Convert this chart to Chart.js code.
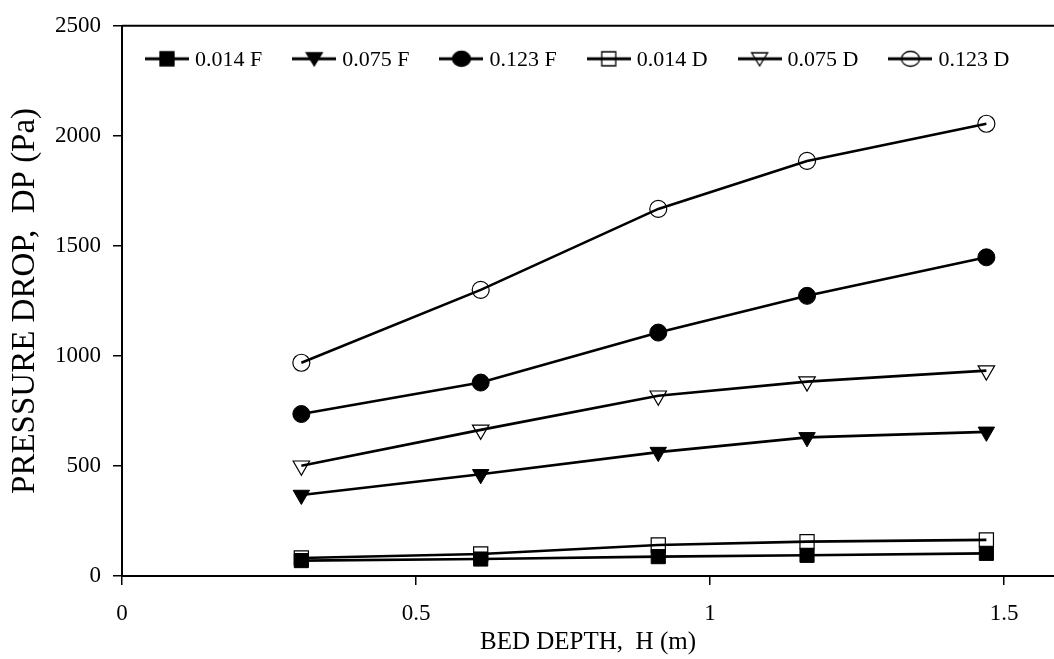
<!DOCTYPE html>
<html>
<head>
<meta charset="utf-8">
<script src="https://cdn.jsdelivr.net/npm/chart.js@4/dist/chart.umd.min.js"></script>
<style>
  html, body { margin: 0; background: #fff; }
  #wrap { width: 1054px; height: 659px; }
</style>
</head>
<body>
<div id="wrap"><canvas id="chart"></canvas></div>
<script>
// bed depth H (m) and pressure drop DP (Pa)
const bedDepth = [0.305, 0.61, 0.912, 1.165, 1.47]
const dp014F = [70, 77, 88, 94, 103]
const dp075F = [368, 462, 563, 630, 655]
const dp123F = [736, 879, 1106, 1273, 1448]
const dp014D = [82, 100, 141, 156, 164]
const dp075D = [501, 664, 819, 883, 933]
const dp123D = [969, 1300, 1668, 1886, 2055]

const seriesNames = ["0.014 F", "0.075 F", "0.123 F", "0.014 D", "0.075 D", "0.123 D"]
const xTicks = [0, 0.5, 1, 1.5]
const yTicks = [0, 500, 1000, 1500, 2000, 2500]

const FONT = "'Liberation Serif', 'Times New Roman', serif"

// legend glyph: a short line with the marker on it
function makeIcon(shape, filled) {
  const c = document.createElement("canvas")
  c.width = 44
  c.height = 22
  const g = c.getContext("2d")
  g.strokeStyle = "#000"
  g.fillStyle = "#000"
  g.lineWidth = 3
  g.beginPath()
  g.moveTo(0, 11)
  g.lineTo(44, 11)
  g.stroke()
  g.lineWidth = 1.3
  g.beginPath()
  if (shape === "rect") g.rect(15, 4, 14, 14)
  if (shape === "triangle") { g.moveTo(14, 5); g.lineTo(30, 5); g.lineTo(22, 18); g.closePath() }
  if (shape === "circle") g.ellipse(22, 11, 9, 7.5, 0, 0, Math.PI * 2)
  if (filled) g.fill()
  g.stroke()
  return c
}

function series(label, values, shape, filled, radius) {
  return {
    label,
    data: bedDepth.map((x, i) => ({ x, y: values[i] })),
    borderColor: "#000",
    borderWidth: 2.6,
    pointStyle: shape,
    pointRotation: shape === "triangle" ? 180 : 0,
    pointRadius: radius,
    pointBorderWidth: filled ? 1 : 1.2,
    pointBackgroundColor: filled ? "#000" : "rgba(0,0,0,0)",
    pointBorderColor: "#000",
    icon: makeIcon(shape, filled),
    tension: 0
  }
}

const datasets = [
  series(seriesNames[0], dp014F, "rect", true, 10),
  series(seriesNames[1], dp075F, "triangle", true, 9.5),
  series(seriesNames[2], dp123F, "circle", true, 8.5),
  series(seriesNames[3], dp014D, "rect", false, 10),
  series(seriesNames[4], dp075D, "triangle", false, 9.5),
  series(seriesNames[5], dp123D, "circle", false, 8.5)
]

// top frame line plus a one-row legend inside the plot area
const frameLegend = {
  id: "frameLegend",
  beforeDatasetsDraw(chart) {
    const { ctx, chartArea } = chart
    ctx.save()
    ctx.strokeStyle = "#000"
    ctx.lineWidth = 2
    ctx.beginPath()
    ctx.moveTo(chartArea.left, chartArea.top)
    ctx.lineTo(chartArea.right, chartArea.top)
    ctx.stroke()
    ctx.restore()
  },
  afterDraw(chart) {
    const { ctx, chartArea } = chart
    ctx.save()
    ctx.font = "22px " + FONT
    ctx.fillStyle = "#000"
    ctx.textBaseline = "middle"
    let x = chartArea.left + 23
    const y = chartArea.top + 33
    chart.data.datasets.forEach((ds) => {
      ctx.drawImage(ds.icon, x, y - 11)
      x += 50
      ctx.fillText(ds.label, x, y + 1)
      x += ctx.measureText(ds.label).width + 30
    })
    ctx.restore()
  }
}

new Chart(document.getElementById("chart"), {
  type: "line",
  data: { datasets },
  plugins: [frameLegend],
  options: {
    responsive: true,
    maintainAspectRatio: false,
    animation: false,
    layout: { autoPadding: false, padding: { top: 25, right: 0, left: 0, bottom: 0 } },
    scales: {
      x: {
        type: "linear",
        min: 0,
        max: 1.585,
        afterBuildTicks: (scale) => { scale.ticks = xTicks.map(value => ({ value })) },
        afterFit: (scale) => { scale.height = 83 },
        ticks: { color: "#000", font: { family: FONT, size: 23 }, padding: 15, maxRotation: 0, callback: (v) => String(v) },
        grid: { drawOnChartArea: false, drawTicks: true, tickLength: 9, color: "#000", lineWidth: 1.5 },
        border: { color: "#000", width: 2 },
        title: { display: true, text: "BED DEPTH,  H (m)", color: "#000", font: { family: FONT, size: 25 }, padding: { top: 0, bottom: 2 } }
      },
      y: {
        min: 0,
        max: 2500,
        afterBuildTicks: (scale) => { scale.ticks = yTicks.map(value => ({ value })) },
        afterFit: (scale) => { scale.width = 122 },
        ticks: { color: "#000", font: { family: FONT, size: 23 }, padding: 12, callback: (v) => String(v) },
        grid: { drawOnChartArea: false, drawTicks: true, tickLength: 9, color: "#000", lineWidth: 1.5 },
        border: { color: "#000", width: 2 },
        title: { display: true, text: "PRESSURE DROP,  DP (Pa)", color: "#000", font: { family: FONT, size: 33 }, padding: { top: 6, bottom: 0 } }
      }
    },
    plugins: {
      tooltip: { enabled: false },
      legend: { display: false }
    }
  }
})
</script>
</body>
</html>
